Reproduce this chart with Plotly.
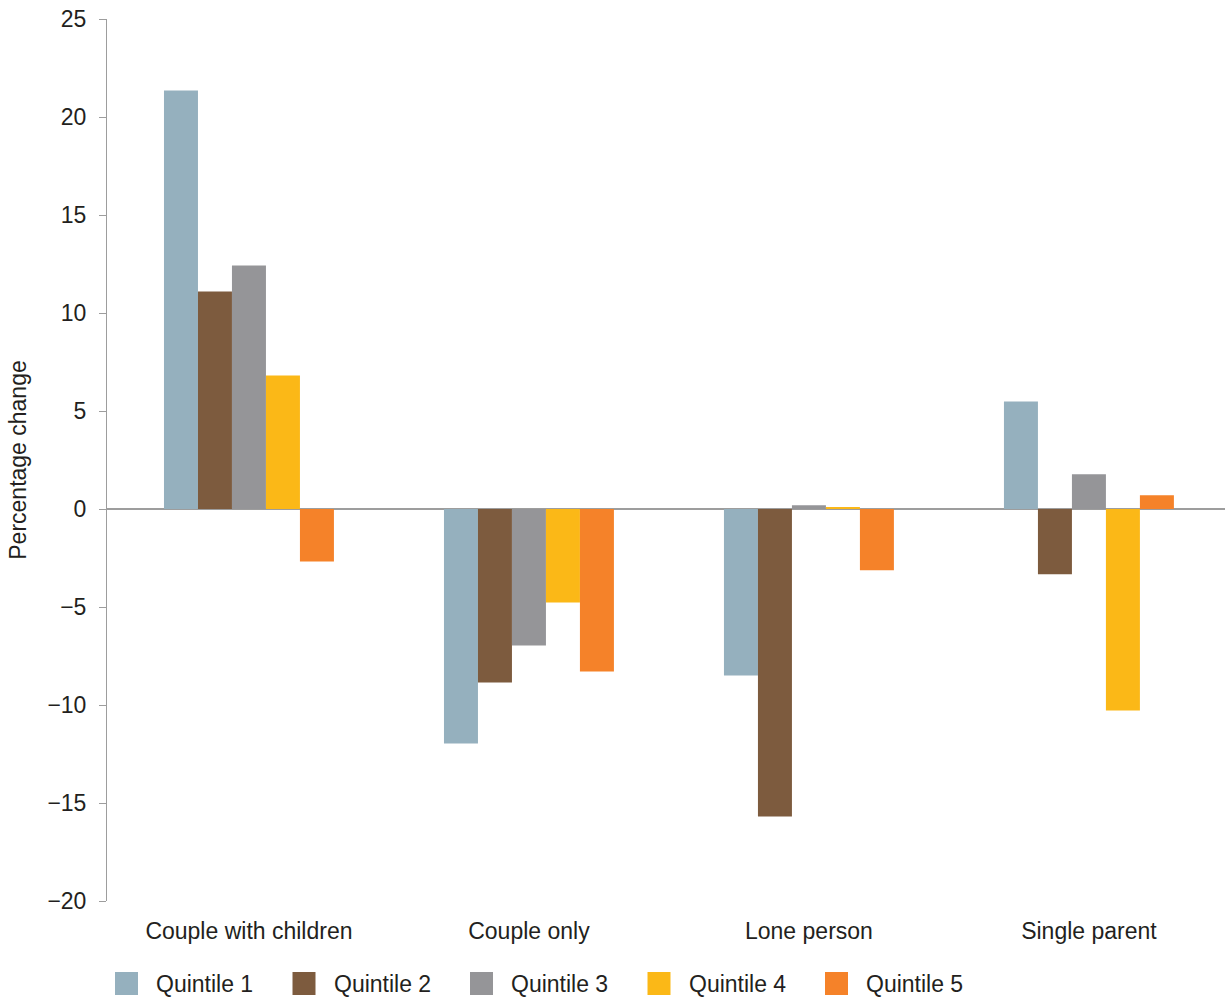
import plotly.graph_objects as go

categories = ["Couple with children", "Couple only", "Lone person", "Single parent"]
series_names = ["Quintile 1", "Quintile 2", "Quintile 3", "Quintile 4", "Quintile 5"]
quintile_1 = [21.35, -11.96, -8.49, 5.49]
quintile_2 = [11.1, -8.85, -15.69, -3.33]
quintile_3 = [12.42, -6.96, 0.19, 1.77]
quintile_4 = [6.81, -4.77, 0.09, -10.28]
quintile_5 = [-2.68, -8.29, -3.13, 0.70]
series_values = [quintile_1, quintile_2, quintile_3, quintile_4, quintile_5]
colors = ["#95B0BE", "#7D5B3E", "#959598", "#FBB817", "#F58229"]
y_ticks = [-20, -15, -10, -5, 0, 5, 10, 15, 20, 25]

FONT = "Liberation Sans, Arial, Helvetica, sans-serif"
TXT = "#231f20"
W, H = 1225, 998
ML, MR, MT, MB = 107, 0, 19, 97

fig = go.Figure()
for name, vals, col in zip(series_names, series_values, colors):
    fig.add_trace(go.Bar(x=categories, y=vals, name=name, marker_color=col,
                         marker_line_width=0, showlegend=False))

# custom legend (large square swatches)
plot_w = W - ML - MR
plot_h = H - MT - MB
sw = 23
start_px = 115
step_px = 177.5
top_px = 972
for i, (name, col) in enumerate(zip(series_names, colors)):
    x0 = start_px + i * step_px
    fx0 = (x0 - ML) / plot_w
    fx1 = (x0 + sw - ML) / plot_w
    fy0 = (H - MB - top_px) / plot_h
    fy1 = (H - MB - top_px - sw) / plot_h
    fig.add_shape(type="rect", xref="paper", yref="paper", x0=fx0, x1=fx1,
                  y0=fy1, y1=fy0, fillcolor=col, line_width=0)
    fig.add_annotation(xref="paper", yref="paper", x=(x0 + 39 - ML) / plot_w,
                       y=(fy0 + fy1) / 2, text=name, showarrow=False,
                       xanchor="left", yanchor="middle",
                       font=dict(family=FONT, size=23, color=TXT))

fig.update_layout(
    width=W, height=H,
    margin=dict(l=ML, r=MR, t=MT, b=MB),
    plot_bgcolor="white", paper_bgcolor="white",
    barmode="group", bargap=0.393, bargroupgap=0,
    font=dict(family=FONT, size=23, color=TXT),
    xaxis=dict(range=[-0.507, 3.486], showline=False, showgrid=False,
               ticks="", ticklabelstandoff=14, zeroline=False,
               tickfont=dict(size=23, color=TXT)),
    yaxis=dict(range=[-20, 25], tickvals=y_ticks, showgrid=False,
               showline=True, linecolor="#9d9d9d", linewidth=1,
               ticks="outside", ticklen=7, tickcolor="#9d9d9d", tickwidth=1,
               ticklabelstandoff=8,
               zeroline=True, zerolinecolor="#9d9d9d", zerolinewidth=1.6,
               title=dict(text="Percentage change", standoff=14,
                          font=dict(size=23, color=TXT)),
               tickfont=dict(size=23, color=TXT)),
)

fig.write_html("out.html")
